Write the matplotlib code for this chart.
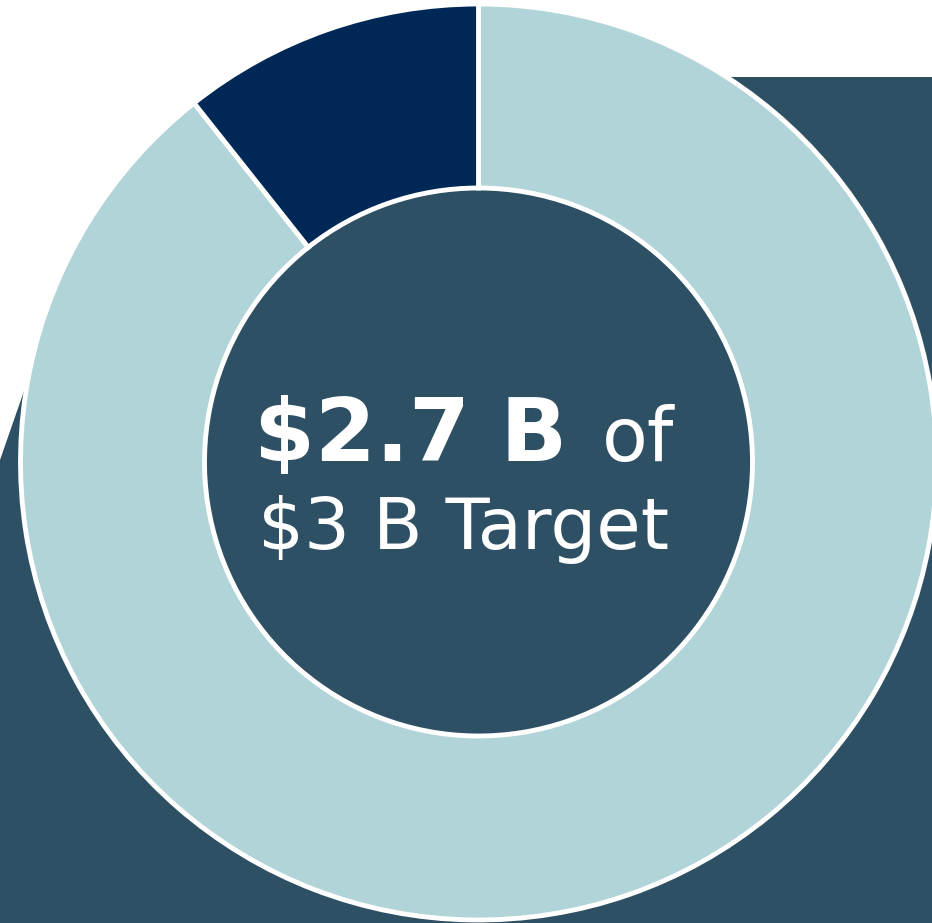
import matplotlib.pyplot as plt
from matplotlib.patches import Polygon

# data
labels = ["Raised", "Remaining"]
values = [2.68, 0.32]
colors = ["#B1D4D9", "#002857"]
headline = "$2.7 B"
headline_tail = "of"
target_text = "$3 B Target"

W, H = 932, 923
slate = "#2E5064"

fig = plt.figure(figsize=(W / 100, H / 100), dpi=100)
ax = fig.add_axes([0, 0, 1, 1])

# slate backdrop behind the donut (its top-left corner hides under the ring)
ax.add_patch(Polygon([(300, H - 77), (W, H - 77), (W, 0), (0, 0),
                      (0, H - 460), (40, H - 345)],
                     closed=True, facecolor=slate, edgecolor="none", zorder=0))

ax.pie(values, colors=colors, startangle=90, counterclock=False,
       center=(478.5, H - 462), radius=458, frame=True,
       wedgeprops=dict(width=184, edgecolor="white", linewidth=3.5))
ax.set_xlim(0, W)
ax.set_ylim(0, H)
ax.set_aspect("equal")
ax.axis("off")

# centre text, line 1 in two weights
t1 = ax.text(0, H - 461, headline, color="white", fontsize=63,
             fontweight="bold", family="DejaVu Sans", ha="left", va="baseline")
t2 = ax.text(0, H - 461, headline_tail, color="white", fontsize=54,
             family="DejaVu Sans", ha="left", va="baseline")
fig.canvas.draw()
inv = ax.transData.inverted()
w1 = t1.get_window_extent().transformed(inv).width
w2 = t2.get_window_extent().transformed(inv).width
gap = 34
x0 = 464 - (w1 + gap + w2) / 2
t1.set_x(x0)
t2.set_x(x0 + w1 + gap)

ax.text(464, H - 549, target_text, color="white", fontsize=52,
        family="DejaVu Sans", ha="center", va="baseline")

fig.savefig("out.png", dpi=100)
